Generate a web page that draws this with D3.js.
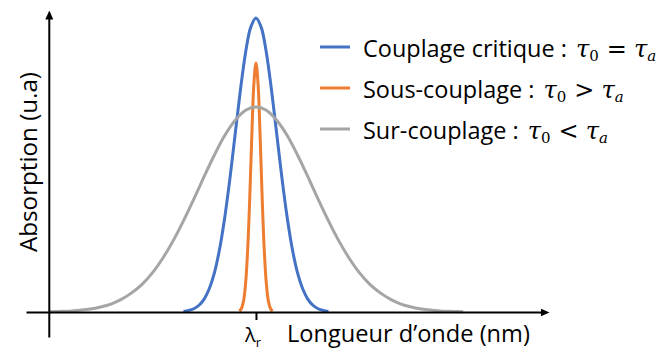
<!DOCTYPE html>
<html>
<head>
<meta charset="utf-8">
<script src="https://cdn.jsdelivr.net/npm/d3@7"></script>
<style>
  html, body { margin: 0; padding: 0; background: #ffffff; }
  svg { display: block; }
</style>
</head>
<body>
<svg id="chart" width="667" height="353"></svg>
<script>
// Absorption profiles sampled around the resonance wavelength λr (x = 0), arbitrary units
const criticalX = [-3.5,-3.25,-3,-2.75,-2.5,-2.25,-2,-1.75,-1.5,-1.25,-1,-0.75,-0.5,-0.25,0,
                   0.25,0.5,0.75,1,1.25,1.5,1.75,2,2.25,2.5,2.75,3,3.25,3.5];
const criticalY = [0.002,0.005,0.011,0.023,0.044,0.080,0.135,0.216,0.325,0.458,0.607,0.755,0.883,0.969,1.000,
                   0.969,0.883,0.755,0.607,0.458,0.325,0.216,0.135,0.080,0.044,0.023,0.011,0.005,0.002];

const underX = [-0.8,-0.7,-0.6,-0.5,-0.4,-0.3,-0.2,-0.1,0,0.1,0.2,0.3,0.4,0.5,0.6,0.7,0.8];
const underY = [0.003,0.012,0.037,0.097,0.211,0.388,0.599,0.777,0.847,0.777,0.599,0.388,0.211,0.097,0.037,0.012,0.003];

const overX = [-10,-9.5,-9,-8.5,-8,-7.5,-7,-6.5,-6,-5.5,-5,-4.5,-4,-3.5,-3,-2.5,-2,-1.5,-1,-0.5,0,
               0.5,1,1.5,2,2.5,3,3.5,4,4.5,5,5.5,6,6.5,7,7.5,8,8.5,9,9.5,10];
const overY = [0.001,0.002,0.003,0.006,0.010,0.017,0.027,0.043,0.065,0.094,0.133,0.183,0.242,0.310,0.384,0.461,0.535,0.601,0.652,0.686,0.697,
               0.686,0.652,0.601,0.535,0.461,0.384,0.310,0.242,0.183,0.133,0.094,0.065,0.043,0.027,0.017,0.010,0.006,0.003,0.002,0.001];

const seriesNames = ["Couplage critique", "Sous-couplage", "Sur-couplage"];
const relations   = ["=", ">", "<"];
const colors      = ["#4472C4", "#ED7D31", "#A5A5A5"];
const tickValues  = [0];
const xTitle = "Longueur d\u2019onde (nm)";
const yTitle = "Absorption (u.a)";

const series = [
  { name: seriesNames[0], rel: relations[0], color: colors[0], pts: d3.zip(criticalX, criticalY) },
  { name: seriesNames[1], rel: relations[1], color: colors[1], pts: d3.zip(underX, underY) },
  { name: seriesNames[2], rel: relations[2], color: colors[2], pts: d3.zip(overX, overY) }
];

const svg = d3.select("#chart");
const sans = "'Open Sans', Lato, sans-serif";
const mathFont = "'DejaVu Serif', 'Liberation Serif', serif";

// scale a text's font size so that it spans the given width
function fitWidth(sel, width) {
  const fs = +sel.attr("font-size");
  const w = sel.node().getComputedTextLength();
  sel.attr("font-size", (fs * width / w).toFixed(2));
  return +sel.attr("font-size");
}

const x = d3.scaleLinear().domain([-11.1, 14]).range([26, 546]);
const y = d3.scaleLinear().domain([-0.085, 1.017]).range([337, 13]);

// arrowhead for the axis ends
svg.append("defs").append("marker")
  .attr("id", "arrow")
  .attr("markerUnits", "userSpaceOnUse")
  .attr("viewBox", "0 0 9 8")
  .attr("markerWidth", 9).attr("markerHeight", 8)
  .attr("refX", 6).attr("refY", 4)
  .attr("orient", "auto")
  .append("path").attr("d", "M0,0L9,4L0,8Z").attr("fill", "#000");

// curves
const line = d3.line().x(d => x(d[0])).y(d => y(d[1])).curve(d3.curveCatmullRom.alpha(0.5));
svg.append("g").selectAll("path").data(series).join("path")
  .attr("d", d => line(d.pts))
  .attr("fill", "none")
  .attr("stroke", d => d.color)
  .attr("stroke-width", 3)
  .attr("stroke-linejoin", "round");

// x axis with the single λr tick
const gx = svg.append("g").attr("transform", `translate(0,${y(0)})`)
  .call(d3.axisBottom(x).tickValues(tickValues).tickFormat("").tickSize(8).tickSizeOuter(0));
gx.select(".domain").attr("stroke-width", 2).attr("marker-end", "url(#arrow)");
gx.selectAll(".tick line").attr("stroke-width", 2);

// y axis
const gy = svg.append("g").attr("transform", `translate(${x(-10)},0)`)
  .call(d3.axisLeft(y).tickValues([]).tickSizeOuter(0));
gy.select(".domain").attr("stroke-width", 2).attr("marker-end", "url(#arrow)");

// λr label under the tick
const lam = svg.append("text")
  .attr("x", x(0) - 3).attr("y", 342)
  .attr("text-anchor", "middle")
  .attr("font-family", sans).attr("font-size", 20).attr("fill", "#000");
lam.append("tspan").text("λ");
lam.append("tspan").attr("font-size", 13).attr("dy", 5).text("r");

// axis titles
const xt = svg.append("text")
  .attr("x", 287).attr("y", 342)
  .attr("font-family", sans).attr("font-size", 22).attr("fill", "#000")
  .text(xTitle);
fitWidth(xt, 243);

const yt = svg.append("text")
  .attr("transform", "translate(37,162) rotate(-90)")
  .attr("text-anchor", "middle")
  .attr("font-family", sans).attr("font-size", 22).attr("fill", "#000")
  .text(yTitle);
fitWidth(yt, 180);

// legend
const leg = svg.append("g").selectAll("g").data(series).join("g")
  .attr("transform", (d, i) => `translate(320,${47 + i * 41})`);
leg.append("line")
  .attr("x1", 0).attr("x2", 30).attr("y1", 0).attr("y2", 0)
  .attr("stroke", d => d.color).attr("stroke-width", 3);
const lt = leg.append("text")
  .attr("x", 43).attr("y", 10)
  .attr("font-family", sans).attr("font-size", 22).attr("fill", "#000")
  .text(d => d.name + " :");
const legendSize = fitWidth(d3.select(lt.nodes()[0]), 204);
lt.attr("font-size", legendSize);

// relation between the intrinsic and coupling lifetimes, set after each label
leg.each(function(d, i) {
  const g = d3.select(this);
  const x0 = 43 + lt.nodes()[i].getComputedTextLength();
  const m = g.append("text").attr("y", 10).attr("font-family", mathFont).attr("fill", "#000");
  m.append("tspan").attr("x", x0 + 9).attr("font-style", "italic").attr("font-size", 24).text("τ");
  m.append("tspan").attr("font-size", 15).attr("dy", 4).text("0");
  m.append("tspan").attr("x", x0 + 50).attr("dy", -4).attr("font-size", 24).attr("text-anchor", "middle").text(d.rel);
  const m2 = g.append("text").attr("y", 10).attr("font-family", mathFont).attr("fill", "#000");
  m2.append("tspan").attr("x", x0 + 67).attr("font-style", "italic").attr("font-size", 24).text("τ");
  m2.append("tspan").attr("font-style", "italic").attr("font-size", 15).attr("dy", 4).text("a");
});
</script>
</body>
</html>
